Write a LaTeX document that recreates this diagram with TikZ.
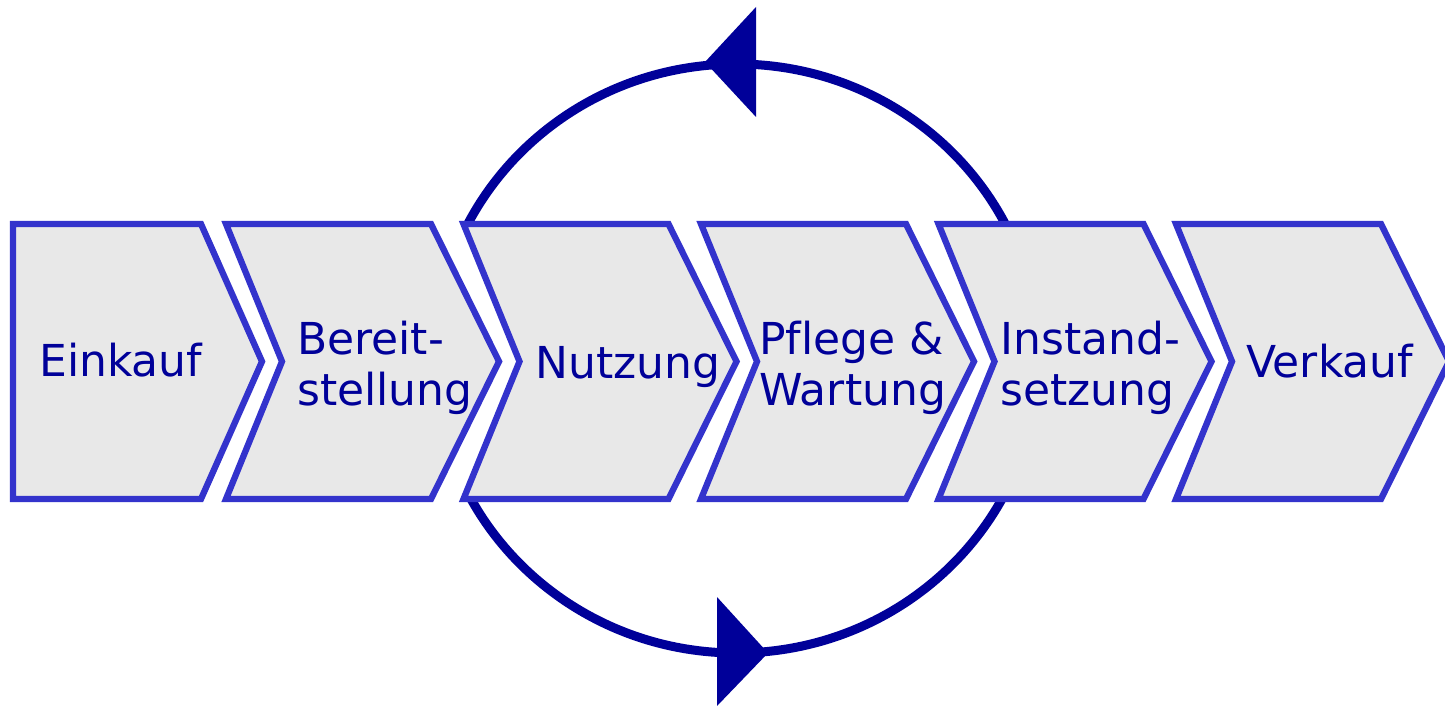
\documentclass[tikz,border=0pt]{standalone}
\usepackage{fontspec}
\setmainfont[Ligatures={NoCommon}]{DejaVu Sans}
\definecolor{chevborder}{HTML}{3333CC}
\definecolor{chevfill}{HTML}{E8E8E8}
\definecolor{darkblue}{HTML}{000099}
\begin{document}
\begin{tikzpicture}[x=1pt,y=-1pt,
  chev/.style={draw=chevborder, fill=chevfill, line width=6.3pt, line join=miter},
  lbl/.style={text=darkblue, font=\fontsize{44}{51}\selectfont, inner sep=0pt, anchor=base west, align=left},
  cyc/.style={draw=darkblue, line width=9pt},
  head/.style={fill=darkblue, draw=none}]
\useasboundingbox (0,0) rectangle (1445,706);
% cycle ring
\coordinate (c) at (736.5,358.5);
\draw[cyc] (c) ellipse[x radius=302, y radius=294.5];
% the ring is hidden behind the band of chevrons
\fill[white] (0,221) rectangle (1445,502);
\fill[head] (705,62) -- (756,7) -- (756,117) -- cycle;
\fill[head] (717,597) -- (717,706) -- (768,653) -- cycle;
% chevrons
\draw[chev] (13,224) -- (201,224) -- (262,361.5) -- (201,499) -- (13,499) -- cycle;
\foreach \i in {0,...,4}{
  \pgfmathsetmacro{\L}{226+237.5*\i}
  \draw[chev] (\L,224) -- ({\L+205},224) -- ({\L+273},361.5) -- ({\L+205},499) -- (\L,499) -- ({\L+56},361.5) -- cycle;
}
% labels
\node[lbl] (einkauf) at (39,376) {Einkauf};
\node[lbl] (bereit) at (297,405) {Bereit-\\stellung};
\node[lbl] (nutzung) at (535,378) {Nutzung};
\node[lbl] (pflege) at (759,405) {Pflege \&\\Wartung};
\node[lbl] (instand) at (1000,405) {Instand-\\setzung};
\node[lbl] (verkauf) at (1246,377) {Verkauf};
\end{tikzpicture}
\end{document}
